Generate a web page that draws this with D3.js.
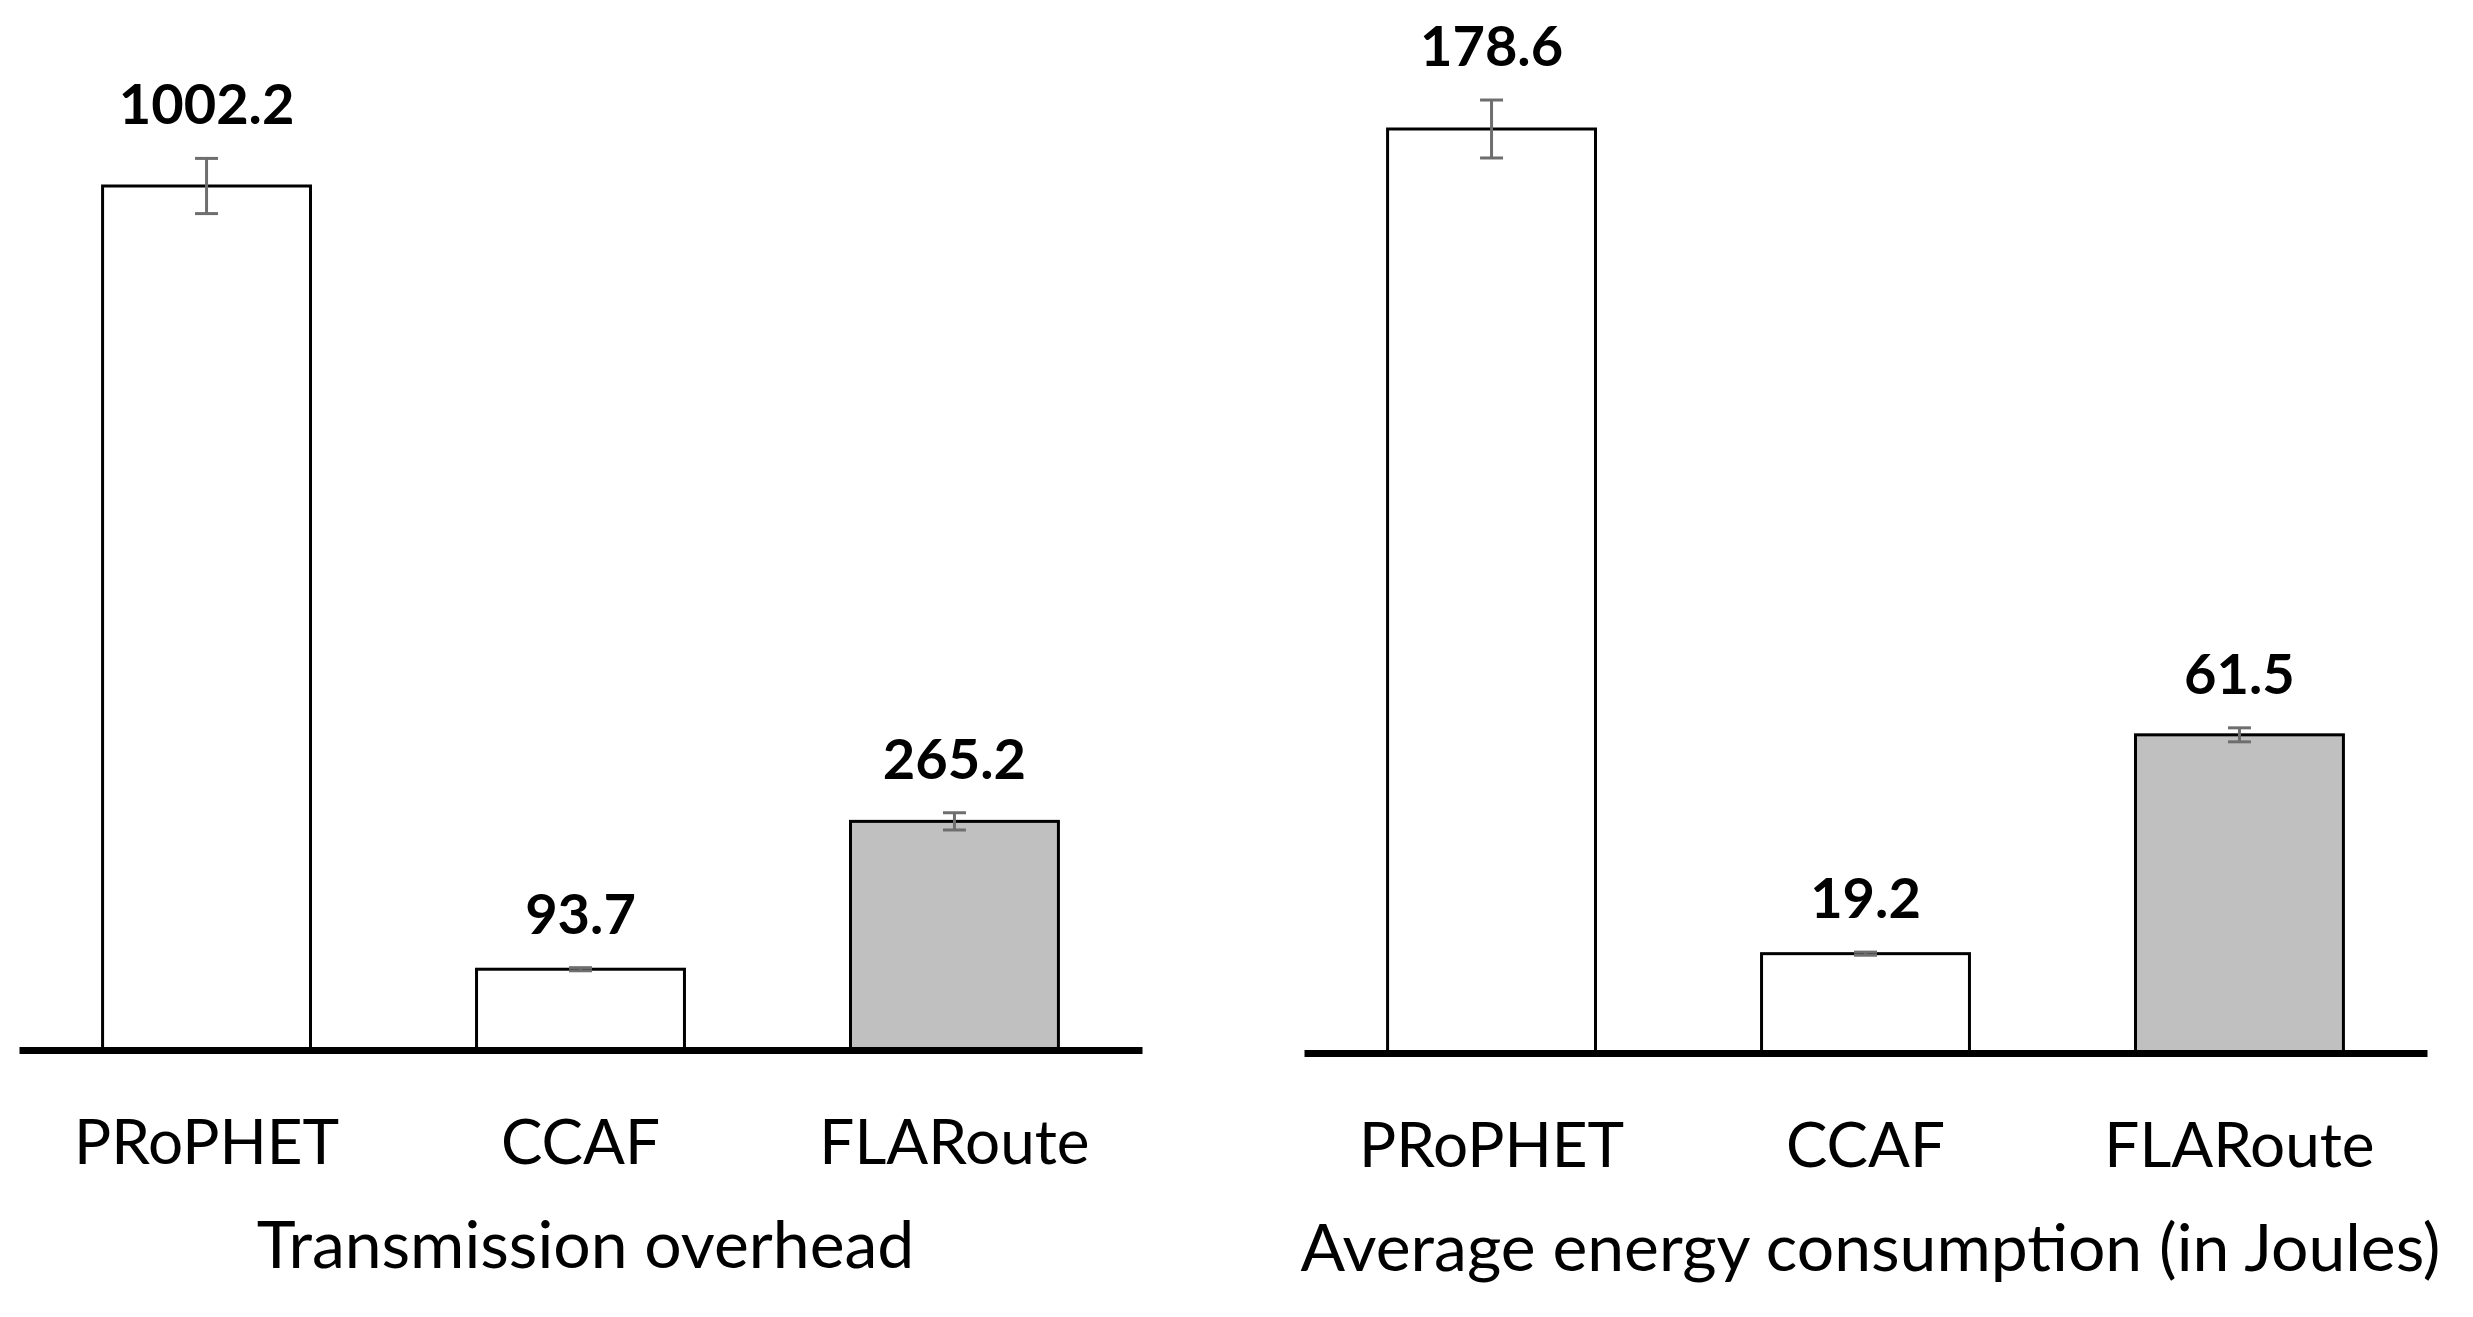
<!DOCTYPE html>
<html>
<head>
<meta charset="utf-8">
<script src="https://cdn.jsdelivr.net/npm/d3@7"></script>
<style>
    body { margin: 0; background: #fff; }
    text { font-family: Lato, "Open Sans", sans-serif; fill: #000; }
</style>
</head>
<body>
<div id="viz"></div>
<script>
// data
var categories = ["PRoPHET", "CCAF", "FLARoute"];
var overheadValues = [1002.2, 93.7, 265.2];
var overheadErrors = [32, 1.8, 10];
var energyValues = [178.6, 19.2, 61.5];
var energyErrors = [5.6, 0.3, 1.35];
var barFills = ["#ffffff", "#ffffff", "#c0c0c0"];
var titles = ["Transmission overhead", "Average energy consumption (in Joules)"];

var svg = d3.select("#viz")
    .append("svg")
    .attr("width", 2473)
    .attr("height", 1317);

function drawPanel(left, right, axisY, topY, values, errors, title) {
    var x = d3.scaleBand()
        .domain(categories)
        .range([left, right])
        .paddingInner(0.444)
        .paddingOuter(0.2235);

    var y = d3.scaleLinear()
        .domain([0, d3.max(values)])
        .range([axisY, topY]);

    var g = svg.append("g");

    var rows = categories.map(function (c, i) {
        return { name: c, v: values[i], e: errors[i], fill: barFills[i] };
    });

    g.selectAll("rect")
        .data(rows)
        .enter()
        .append("rect")
        .attr("x", function (d) { return x(d.name); })
        .attr("y", function (d) { return y(d.v); })
        .attr("width", x.bandwidth())
        .attr("height", function (d) { return axisY - y(d.v); })
        .attr("fill", function (d) { return d.fill; })
        .attr("stroke", "#000")
        .attr("stroke-width", 3);

    // error bars
    var eb = g.selectAll("g.err")
        .data(rows)
        .enter()
        .append("g")
        .attr("class", "err")
        .attr("stroke", "#6e6e6e")
        .attr("stroke-width", 3);
    eb.append("line")
        .attr("x1", function (d) { return x(d.name) + x.bandwidth() / 2; })
        .attr("x2", function (d) { return x(d.name) + x.bandwidth() / 2; })
        .attr("y1", function (d) { return y(d.v + d.e); })
        .attr("y2", function (d) { return y(d.v - d.e); });
    [1, -1].forEach(function (s) {
        eb.append("line")
            .attr("x1", function (d) { return x(d.name) + x.bandwidth() / 2 - 11.5; })
            .attr("x2", function (d) { return x(d.name) + x.bandwidth() / 2 + 11.5; })
            .attr("y1", function (d) { return y(d.v + s * d.e); })
            .attr("y2", function (d) { return y(d.v + s * d.e); });
    });

    // value labels
    g.selectAll("text.val")
        .data(rows)
        .enter()
        .append("text")
        .attr("class", "val")
        .attr("x", function (d) { return x(d.name) + x.bandwidth() / 2; })
        .attr("y", function (d) { return y(d.v + d.e) - 34; })
        .attr("text-anchor", "middle")
        .attr("font-size", 56)
        .attr("font-weight", "bold")
        .text(function (d) { return d.v.toFixed(1); });

    // bottom axis with category names
    var axis = g.append("g")
        .attr("transform", "translate(0," + axisY + ")")
        .call(d3.axisBottom(x).tickSize(0).tickSizeOuter(0).tickPadding(70));
    axis.select(".domain")
        .attr("stroke", "#000")
        .attr("stroke-width", 7);
    axis.selectAll("text")
        .attr("font-size", 62)
        .attr("font-family", "Lato, 'Open Sans', sans-serif")
        .attr("fill", "#000");

    g.append("text")
        .attr("x", (left + right) / 2 + 5)
        .attr("y", axisY + 218)
        .attr("text-anchor", "middle")
        .attr("font-size", 66)
        .text(title);
}

drawPanel(19, 1142, 1050, 186, overheadValues, overheadErrors, titles[0]);
drawPanel(1304, 2427, 1053, 129, energyValues, energyErrors, titles[1]);
</script>
</body>
</html>
